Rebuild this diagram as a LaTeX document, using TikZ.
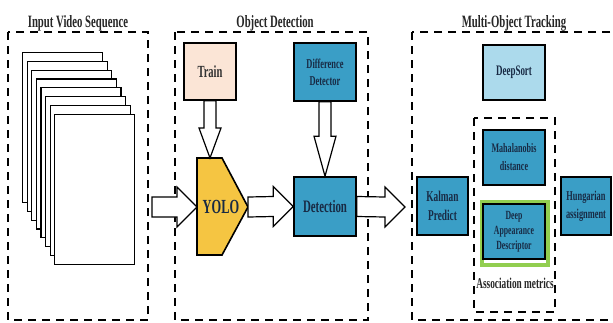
\documentclass[tikz,border=0pt]{standalone}
\usepackage{fontspec}
\setmainfont{Liberation Serif}[FakeStretch=0.62]
\usetikzlibrary{calc}

\definecolor{detblue}{RGB}{58,158,198}
\definecolor{sortblue}{RGB}{172,218,236}
\definecolor{trainfill}{RGB}{251,229,214}
\definecolor{yolofill}{RGB}{245,197,66}
\definecolor{metricgreen}{RGB}{146,206,80}
\definecolor{navy}{RGB}{24,42,68}

\begin{document}
\begin{tikzpicture}[x=1pt,y=-1pt]

\def\shaft{10}
\def\head{20}
\def\headlen{20}

\tikzset{frame/.style = {draw, line width=1.2pt, fill=white, minimum width=80, minimum height=150, inner sep=0pt, anchor=north west},
         group/.style = {draw, dash pattern=on 8pt off 6pt, line width=1.3pt},
         title/.style = {anchor=base, font=\bfseries\fontsize{17.3}{20}\selectfont, text=black!85},
         box/.style = {draw, line width=1.6pt, fill=detblue, minimum width=62, minimum height=57, inner sep=1pt, align=center, text=navy},
         blockarrow/.style = {draw, line width=1.2pt, fill=white, line join=miter}}

\def\harrow#1#2{\draw[blockarrow] ($(#1)+(0,-\shaft)$) -- ($(#2)+(-\headlen,-\shaft)$) -- ($(#2)+(-\headlen,-\head)$) -- (#2) -- ($(#2)+(-\headlen,\head)$) -- ($(#2)+(-\headlen,\shaft)$) -- ($(#1)+(0,\shaft)$) -- cycle;}
\def\varrow#1#2#3{\draw[blockarrow] ($(#1)+(-6,0)$) -- ($(#2)+(-6,-#3)$) -- ($(#2)+(-11,-#3)$) -- (#2) -- ($(#2)+(11,-#3)$) -- ($(#2)+(6,-#3)$) -- ($(#1)+(6,0)$) -- cycle;}

\clip (0,0) rectangle (613,322);

% groups
\draw[group] (8,32) rectangle (148,320);
\draw[group] (175,32) rectangle (368,320);
\draw[group] (412,32) rectangle (622,320);
\draw[group] (474,118) rectangle (555,312);

\node[title] (intitle) at (78,27) {Input Video Sequence};
\node[title] (odtitle) at (275,27) {Object Detection};
\node[title] (mottitle) at (514,27) {Multi-Object Tracking};

% video frames
\foreach \i in {0,...,7}
  \node[frame] (frame\i) at (22+4.6*\i,52+8.8*\i) {};

% object detection
\node[box, fill=trainfill, minimum width=52, text=black!80, font=\bfseries\fontsize{17}{20}\selectfont] (train) at (210,71.5) {Train};
\node[box, minimum height=58, font=\bfseries\fontsize{13.5}{17}\selectfont] (diff) at (325,72) {Difference\\Detector};
\node[box, minimum height=59, font=\bfseries\fontsize{17.5}{20}\selectfont] (det) at (325,206.5) {Detection};

\coordinate (yoloN) at (210,158);
\coordinate (yoloW) at (197,207);
\coordinate (yoloE) at (248,207);
\draw[line width=1.6pt, fill=yolofill] (197,158) -- (222,158) -- (yoloE) -- (222,255) -- (197,255) -- cycle;
\node[font=\bfseries\fontsize{20}{22}\selectfont, text=navy] (yolo) at (221,207) {YOLO};

% multi-object tracking
\node[box, fill=sortblue, minimum height=55, font=\bfseries\fontsize{14.5}{17}\selectfont] (deepsort) at (514,72.5) {DeepSort};
\node[box, minimum height=55, font=\bfseries\fontsize{13}{18}\selectfont] (maha) at (514,157.5) {Mahalanobis\\distance};
\draw[metricgreen, line width=4pt] (481.5,202) rectangle (548,265);
\node[box, minimum height=55, font=\bfseries\fontsize{12.5}{15}\selectfont] (desc) at (514,231.5) {Deep\\Appearance\\Descriptor};
\node[font=\bfseries\fontsize{15}{17}\selectfont, text=black!85] (metrics) at (515,283) {Association metrics};
\node[box, minimum width=51, minimum height=58, font=\bfseries\fontsize{15}{19}\selectfont] (kalman) at (442.5,206) {Kalman\\Predict};
\node[box, minimum width=50, minimum height=58, font=\bfseries\fontsize{13.5}{18}\selectfont] (hung) at (586,206) {Hungarian\\assignment};

% block arrows
\coordinate (instart) at (152,207);
\coordinate (motend) at (405,207);
\harrow{instart}{yoloW}
\harrow{yoloE}{det.west}
\harrow{det.east}{motend}
\varrow{train.south}{yoloN}{30}
\varrow{diff.south}{det.north}{40}

\end{tikzpicture}
\end{document}
